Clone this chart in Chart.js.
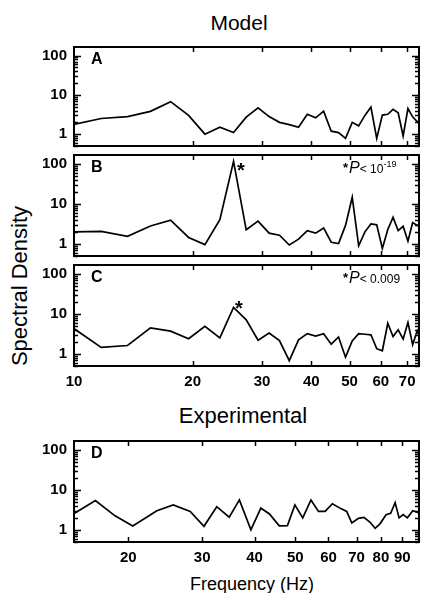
<!DOCTYPE html>
<html>
<head>
<meta charset="utf-8">
<script src="https://cdn.jsdelivr.net/npm/chart.js@4.4.0/dist/chart.umd.min.js"></script>
<style>
  body { margin: 0; background: #fff; }
  #wrap { position: relative; width: 422px; height: 593px; overflow: hidden; font-family: 'Liberation Sans', Arial, sans-serif; color: #000; }
  canvas { position: absolute; left: 0; }
  .lbl { position: absolute; white-space: nowrap; line-height: 1; }
  .let { font-size: 16px; font-weight: bold; left: 91px; }
  .star { font-size: 20px; font-weight: bold; }
  .pval b { font-size: 13px; vertical-align: 1px; margin-right: 1px; }
  .pval i { font-size: 16px; }
  .pval span { font-size: 12px; }
  .pval sup { font-size: 9px; vertical-align: 6px; }
</style>
</head>
<body>
<div id="wrap">
  <div class="lbl" style="left:139px;width:200px;text-align:center;top:12px;font-size:21px;">Model</div>
  <div class="lbl" style="left:143px;width:200px;text-align:center;top:405px;font-size:22px;">Experimental</div>
  <div class="lbl" style="left:152px;width:200px;text-align:center;top:575px;font-size:18px;">Frequency (Hz)</div>
  <div class="lbl" style="left:20px;top:286px;font-size:22px;transform:translate(-50%,-50%) rotate(-90deg);">Spectral Density</div>

  <canvas id="cA"></canvas>
  <canvas id="cB"></canvas>
  <canvas id="cC"></canvas>
  <canvas id="cD"></canvas>

  <div class="lbl let" style="top:51px;">A</div>
  <div class="lbl let" style="top:159px;">B</div>
  <div class="lbl let" style="top:269px;">C</div>
  <div class="lbl let" style="top:445px;">D</div>

  <div class="lbl star" style="left:237px;top:160px;">*</div>
  <div class="lbl star" style="left:235px;top:298px;">*</div>

  <div class="lbl pval" style="left:343px;top:160px;"><b>*</b><i>P</i><span>&lt; 10</span><sup>-19</sup></div>
  <div class="lbl pval" style="left:343px;top:270px;"><b>*</b><i>P</i><span>&lt; 0.009</span></div>
</div>
<script>
// frequency bins (Hz) of the model spectra
const freqModel = [9.77, 11.72, 13.67, 15.63, 17.58, 19.53, 21.48, 23.44, 25.39, 27.34, 29.30, 31.25, 33.20, 35.16, 37.11, 39.06, 41.02, 42.97, 44.92, 46.88, 48.83, 50.78, 52.73, 54.69, 56.64, 58.59, 60.55, 62.50, 64.45, 66.41, 68.36, 70.31, 72.27, 74.22, 76.17];
const specA = [1.7, 2.5, 2.8, 3.8, 6.7, 3.0, 1.0, 1.5, 1.1, 2.7, 4.7, 2.8, 2.0, 1.75, 1.5, 3.2, 2.6, 3.86, 1.19, 1.1, 0.78, 2.0, 1.63, 3.0, 4.9, 0.78, 3.05, 3.2, 4.3, 3.5, 0.9, 4.5, 2.76, 2.1, 1.7];
const specB = [2.0, 2.05, 1.55, 2.8, 3.9, 1.45, 0.96, 4.0, 115, 2.25, 3.7, 1.86, 1.65, 0.94, 1.32, 2.15, 1.86, 2.5, 1.1, 1.02, 2.9, 14.6, 0.9, 2.0, 3.16, 3.0, 0.77, 2.3, 4.6, 2.15, 2.75, 1.17, 3.4, 2.9, 2.8];
const specC = [5.0, 1.45, 1.62, 4.45, 3.7, 2.4, 4.9, 2.5, 14.5, 7.1, 2.2, 3.3, 2.15, 0.68, 2.24, 3.2, 2.8, 3.2, 1.75, 2.65, 0.83, 2.1, 3.2, 3.1, 3.0, 1.35, 1.2, 5.8, 2.7, 4.0, 2.35, 6.1, 1.7, 3.8, 2.0];

// experimental spectrum
const freqExp = [14.9, 16.7, 18.6, 20.5, 23.4, 25.6, 28.1, 30.3, 32.5, 34.8, 36.8, 39.2, 41.4, 43.4, 45.8, 47.9, 49.9, 52.1, 54.5, 56.8, 58.9, 61.3, 64.2, 66.3, 68.2, 70.7, 72.9, 75.4, 77.5, 79.6, 82.3, 84.4, 86.5, 88.4, 90.4, 92.5, 95.3, 98.2, 100.4];
const specD = [2.6, 5.4, 2.25, 1.25, 3.0, 4.2, 2.9, 1.23, 3.8, 2.07, 5.6, 1.0, 3.5, 2.5, 1.26, 1.28, 4.2, 1.99, 5.6, 2.9, 2.9, 4.5, 3.4, 2.9, 1.5, 1.95, 2.05, 1.55, 1.1, 1.42, 2.4, 2.6, 4.8, 2.0, 2.4, 2.0, 3.0, 2.7, 2.6];

// axes
const yTicks = [1, 10, 100];
const yRange = [0.5, 165];
const xTicksModel = [10, 20, 30, 40, 50, 60, 70];
const xRangeModel = [10, 75];
const xTicksExp = [20, 30, 40, 50, 60, 70, 80, 90];
const xRangeExp = [14.85, 98.6];

const FONT = 'Liberation Sans, Arial, sans-serif';

// frame + inward ticks on all four sides, placed with the chart's own scales
function drawFrame(chart, xTicks) {
    const { ctx, chartArea: a, scales: { x, y } } = chart;
    ctx.save();
    ctx.strokeStyle = '#000';
    ctx.lineWidth = 1.5;
    ctx.beginPath();
    for (let d = 0.1; d < 1000; d *= 10) {
        for (let m = 1; m < 10; m++) {
            const v = d * m;
            if (v < y.min || v > y.max) continue;
            const py = Math.round(y.getPixelForValue(v)) + 0.5;
            const len = m === 1 ? 7 : 4;
            ctx.moveTo(a.left, py);  ctx.lineTo(a.left + len, py);
            ctx.moveTo(a.right, py); ctx.lineTo(a.right - len, py);
        }
    }
    xTicks.forEach(v => {
        if (v <= x.min || v >= x.max) return;
        const px = Math.round(x.getPixelForValue(v)) + 0.5;
        ctx.moveTo(px, a.top);    ctx.lineTo(px, a.top + 5);
        ctx.moveTo(px, a.bottom); ctx.lineTo(px, a.bottom - 5);
    });
    ctx.stroke();
    ctx.lineWidth = 2;
    ctx.strokeRect(a.left, a.top, a.right - a.left, a.bottom - a.top);
    ctx.restore();
}

function makePanel(id, areaTop, areaH, freqs, values, xRange, xTicks, showX) {
    const el = document.getElementById(id);
    const bottomSpace = showX ? 30 : 10;
    el.width = 422;
    el.height = areaH + 10 + bottomSpace;
    el.style.top = (areaTop - 10) + 'px';

    new Chart(el, {
        type: 'line',
        data: {
            datasets: [{
                data: freqs.map((f, i) => ({ x: f, y: values[i] })),
                borderColor: '#000',
                borderWidth: 1.7,
                pointRadius: 0,
                tension: 0
            }]
        },
        plugins: [{ id: 'frame', afterDraw: c => drawFrame(c, xTicks) }],
        options: {
            responsive: false,
            animation: false,
            events: [],
            layout: { padding: { top: 10, right: 3, left: 0, bottom: showX ? 0 : 10 } },
            plugins: { legend: { display: false }, tooltip: { enabled: false } },
            scales: {
                x: {
                    type: 'logarithmic',
                    min: xRange[0], max: xRange[1],
                    display: showX,
                    afterBuildTicks: s => { s.ticks = xTicks.map(v => ({ value: v })); },
                    afterFit: s => { s.height = showX ? 30 : 0; s.paddingLeft = 0; s.paddingRight = 0; },
                    grid: { display: false, drawTicks: false },
                    border: { display: false },
                    ticks: {
                        autoSkip: false, maxRotation: 0, minRotation: 0, padding: 7,
                        color: '#000', font: { family: FONT, size: 15, weight: 'bold' },
                        callback: v => String(v)
                    }
                },
                y: {
                    type: 'logarithmic',
                    min: yRange[0], max: yRange[1],
                    afterBuildTicks: s => { s.ticks = yTicks.map(v => ({ value: v })); },
                    afterFit: s => { s.width = 74; s.paddingTop = 0; s.paddingBottom = 0; },
                    grid: { display: false, drawTicks: false },
                    border: { display: false },
                    ticks: {
                        autoSkip: false, padding: 7,
                        color: '#000', font: { family: FONT, size: 15, weight: 'bold' },
                        callback: v => String(v)
                    }
                }
            }
        }
    });
}

makePanel('cA', 47, 99, freqModel, specA, xRangeModel, xTicksModel, false);
makePanel('cB', 155, 101, freqModel, specB, xRangeModel, xTicksModel, false);
makePanel('cC', 265, 101, freqModel, specC, xRangeModel, xTicksModel, true);
makePanel('cD', 441, 101, freqExp, specD, xRangeExp, xTicksExp, true);
</script>
</body>
</html>
